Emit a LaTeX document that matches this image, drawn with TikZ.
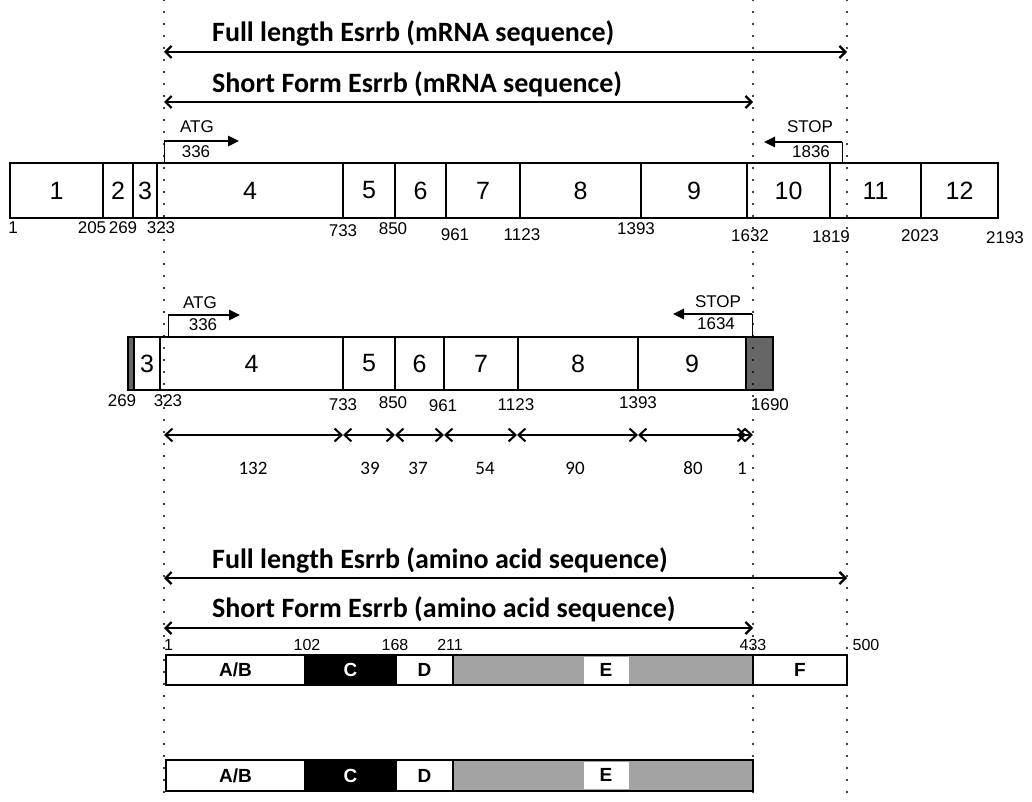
\documentclass[tikz,border=0pt]{standalone}
\usepackage{fontspec}
\setmainfont{Liberation Sans}
\newfontfamily\calibri{Carlito}
\usetikzlibrary{arrows.meta}
\newcommand\seg[7]{\node[#6, minimum width={#3-#2}, minimum height={#5-#4}] (#1) at ({(#2+#3)/2},{(#4+#5)/2}) {#7};}
\tikzset{
  guide/.style={line width=2.2pt, dash pattern=on 0pt off 12pt, line cap=round},
  box/.style={draw, line width=1.7pt, inner sep=0pt, outer sep=0pt, fill=white},
  exlab/.style={box, font=\fontsize{25}{25}\selectfont},
  grey/.style={box, fill=black!60},
  posnum/.style={font=\fontsize{17}{17}\selectfont, inner sep=0pt},
  title/.style={font=\calibri\bfseries\fontsize{28}{28}\selectfont, anchor=west, inner sep=0pt},
  longarr/.style={line width=2.2pt, {Straight Barb[length=6pt,width=12pt]}-{Straight Barb[length=6pt,width=12pt]}},
  span/.style={line width=2pt, {Straight Barb[length=7pt,width=13pt]}-{Straight Barb[length=7pt,width=13pt]}},
  spanlab/.style={font=\calibri\fontsize{19}{19}\selectfont, inner sep=0pt},
  stem/.style={line width=1pt},
  startarr/.style={line width=2.5pt, -{Triangle[length=11pt,width=10pt]}},
  sig/.style={font=\fontsize{17}{17}\selectfont, inner sep=0pt},
  pnum/.style={font=\fontsize{16}{16}\selectfont, inner sep=0pt},
  dom/.style={box, font=\bfseries\fontsize{19}{19}\selectfont},
  domblack/.style={box, fill=black, text=white, font=\bfseries\fontsize{19}{19}\selectfont},
  domgrey/.style={box, fill=black!36},
  whitelab/.style={fill=white, inner sep=0pt, minimum width=45, minimum height=27, font=\bfseries\fontsize{19}{19}\selectfont},
}
\begin{document}
\begin{tikzpicture}[x=1pt,y=-1pt]
\useasboundingbox (0,0) rectangle (1032,802);
% guide coordinates
\coordinate (gLt) at (164,0);   \coordinate (gLb) at (164,802);
\coordinate (gMt) at (753,0);   \coordinate (gMb) at (753,802);
\coordinate (gRt) at (847,0);   \coordinate (gRb) at (847,802);

% mRNA titles and arrows
\node[title] (t1) at (212,33) {Full length Esrrb (mRNA sequence)};
\coordinate (a1l) at (164,52); \coordinate (a1r) at (847,52);
\draw[longarr] (a1l) -- (a1r);
\node[title] (t2) at (212,84) {Short Form Esrrb (mRNA sequence)};
\coordinate (a2l) at (164,102); \coordinate (a2r) at (753,102);
\draw[longarr] (a2l) -- (a2r);

% Row 1 exons
\foreach \n/\a/\b/\l in {e1/10/103/1, e2/103/133/2, e3/133/157/3, e4/157/343/4, e5/343/395/5, e6/395/446/6, e7/446/520/7, e8/520/641/8, e9/641/747/9, e10/747/830/10, e11/830/921/11, e12/921/998/12}
  {\seg{\n}{\a}{\b}{163}{218}{exlab}{\l}}
\foreach \x/\t/\y [count=\i] in {13/1/228, 92/205/228, 123/269/228, 161/323/228, 343/733/231, 393/850/229, 455/961/235, 522/1123/235, 636/1393/229, 750/1632/236, 831/1819/237, 920/2023/236, 1005/2193/238}
  {\node[posnum] (p1n\i) at (\x,\y) {\t};}

% ATG / STOP row 1
\coordinate (s1a) at (164,163); \coordinate (s1b) at (164,141); \coordinate (s1c) at (239,141);
\draw[stem] (s1a) -- (s1b);
\draw[startarr] (s1b) -- (s1c);
\node[sig] (atg1) at (197,127) {ATG};
\node[sig] (atg1n) at (196,152) {336};
\coordinate (x1a) at (842,163); \coordinate (x1b) at (842,142); \coordinate (x1c) at (764,142);
\draw[stem] (x1a) -- (x1b);
\draw[startarr] (x1b) -- (x1c);
\node[sig] (stop1) at (810,127) {STOP};
\node[sig] (stop1n) at (811,152) {1836};

% Row 2 exons
\seg{f2}{128}{134}{337}{390}{grey}{}
\foreach \n/\a/\b/\l in {f3/134/160/3, f4/160/343/4, f5/343/395/5, f6/395/444/6, f7/444/518/7, f8/518/638/8, f9/638/746/9}
  {\seg{\n}{\a}{\b}{337}{390}{exlab}{\l}}
\seg{f10}{746}{773}{337}{390}{grey}{}
\foreach \x/\t/\y [count=\i] in {122/269/401, 168/323/401, 343/733/405, 393/850/403, 443/961/406, 516/1123/405, 638/1393/403, 770/1690/405}
  {\node[posnum] (p2n\i) at (\x,\y) {\t};}

% ATG / STOP row 2
\coordinate (s2a) at (168,337); \coordinate (s2b) at (168,315); \coordinate (s2c) at (240,315);
\draw[stem] (s2a) -- (s2b);
\draw[startarr] (s2b) -- (s2c);
\node[sig] (atg2) at (200,303) {ATG};
\node[sig] (atg2n) at (203,325) {336};
\coordinate (x2a) at (752,337); \coordinate (x2b) at (752,314); \coordinate (x2c) at (673,314);
\draw[stem] (x2a) -- (x2b);
\draw[startarr] (x2b) -- (x2c);
\node[sig] (stop2) at (718,302) {STOP};
\node[sig] (stop2n) at (716,324) {1634};

% coding spans
\foreach \x [count=\i] in {164,343,395,444,517,638,746}
  {\coordinate (k\i) at (\x,435);}
\coordinate (k8) at (737,435); \coordinate (k9) at (753,435);
\foreach \i/\j in {1/2,2/3,3/4,4/5,5/6,6/7}
  {\draw[span] (k\i) -- (k\j);}
\draw[span] (k8) -- (k9);
\foreach \x/\t [count=\i] in {253/132, 370/39, 418/37, 485/54, 575/90, 693/80, 742/1}
  {\node[spanlab] (sl\i) at (\x,468) {\t};}

% amino acid titles and arrows
\node[title] (t3) at (212,560) {Full length Esrrb (amino acid sequence)};
\coordinate (a3l) at (164,578); \coordinate (a3r) at (847,578);
\draw[longarr] (a3l) -- (a3r);
\node[title] (t4) at (212,609) {Short Form Esrrb (amino acid sequence)};
\coordinate (a4l) at (164,628); \coordinate (a4r) at (753,628);
\draw[longarr] (a4l) -- (a4r);

% protein bar 1
\seg{d1ab}{166}{305}{655}{685}{dom}{A/B}
\seg{d1c}{305}{396}{655}{685}{domblack}{C}
\seg{d1d}{396}{453}{655}{685}{dom}{D}
\seg{d1e}{453}{753}{655}{685}{domgrey}{}
\node[whitelab] (d1el) at (606,670) {E};
\seg{d1f}{753}{847}{655}{685}{dom}{F}
\node[pnum, anchor=west] (q1) at (164,645) {1};
\node[pnum] (q2) at (307,645) {102};
\node[pnum] (q3) at (395,645) {168};
\node[pnum] (q4) at (450,645) {211};
\node[pnum] (q5) at (753,645) {433};
\node[pnum] (q6) at (866,645) {500};

% protein bar 2
\seg{d2ab}{166}{305}{760}{791}{dom}{A/B}
\seg{d2c}{305}{396}{760}{791}{domblack}{C}
\seg{d2d}{396}{453}{760}{791}{dom}{D}
\seg{d2e}{453}{753}{760}{791}{domgrey}{}
\node[whitelab] (d2el) at (606,775) {E};

% dotted guides
\draw[guide] (gLt) -- (gLb);
\draw[guide] (gMt) -- (gMb);
\draw[guide] (gRt) -- (gRb);
\end{tikzpicture}
\end{document}
